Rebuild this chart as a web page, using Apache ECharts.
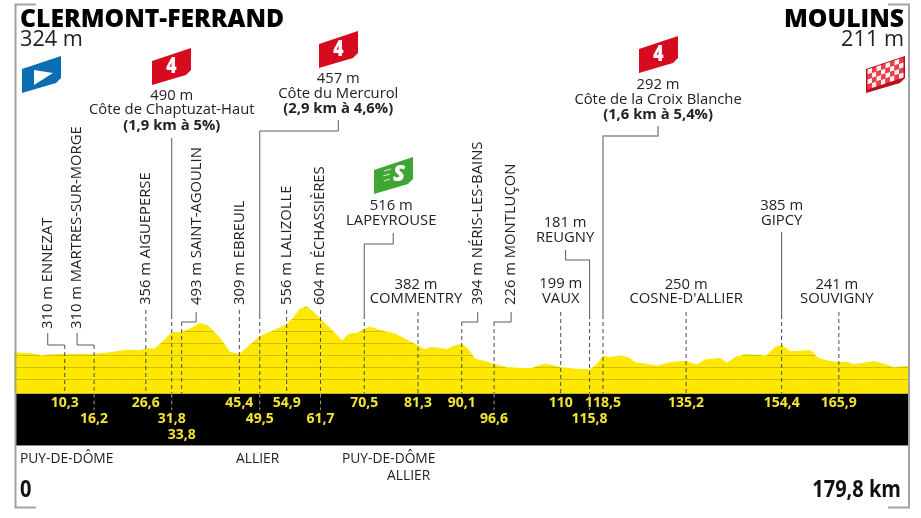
<!DOCTYPE html>
<html>
<head>
<meta charset="utf-8">
<style>html,body{margin:0;padding:0;background:#fff}#chart{width:921px;height:518px}</style>
<script src="https://cdn.jsdelivr.net/npm/echarts@6/dist/echarts.min.js"></script>
</head>
<body>
<div id="chart"></div>
<script>
// Stage profile: distance (km) and altitude (m)
const profileKm = [0, 3.9, 5.6, 7.2, 10.3, 13, 16.2, 18.6, 22.7, 25.4, 26.6, 28.4, 30, 31.8, 33.8, 35.7, 37.4, 39.1, 41.5, 43.5, 45.4, 47.2, 49.5, 51.5, 54.9, 56.5, 57.5, 58.9, 60.2, 61.7, 62.9, 64.6, 66.1, 67.3, 69, 70.5, 71.6, 74, 76.7, 79, 81.3, 82.7, 84, 87.1, 88.7, 90.1, 91.4, 92.8, 94.4, 96.6, 99.1, 103.8, 106.9, 110, 113.2, 115.8, 117.2, 118.5, 119.9, 121.9, 123.6, 124.9, 127, 129.3, 132.3, 135.2, 137.4, 139, 142, 143.4, 145.1, 147.1, 151.4, 153.1, 154.4, 156.1, 160.2, 161.8, 164.2, 165.9, 167.5, 168.9, 172.9, 174.9, 176.9, 178.3, 179.8];
const profileAlt = [324, 312, 298, 304, 310, 310, 310, 318, 343, 340, 356, 354, 415, 490, 493, 526, 568, 546, 443, 326, 309, 374, 457, 493, 556, 623, 685, 707, 665, 604, 554, 485, 421, 476, 485, 516, 535, 507, 479, 429, 382, 346, 368, 351, 379, 394, 351, 268, 254, 226, 199, 190, 229, 199, 185, 181, 221, 292, 282, 298, 282, 240, 229, 212, 243, 250, 221, 262, 276, 235, 285, 307, 298, 368, 385, 332, 340, 276, 249, 241, 243, 223, 249, 229, 199, 204, 211];

// Intermediate points along the route
const stopKm = [10.3, 16.2, 26.6, 31.8, 33.8, 45.4, 49.5, 54.9, 61.7, 70.5, 81.3, 90.1, 96.6, 110, 115.8, 118.5, 135.2, 154.4, 165.9];
const stopKmText = ['10,3', '16,2', '26,6', '31,8', '33,8', '45,4', '49,5', '54,9', '61,7', '70,5', '81,3', '90,1', '96,6', '110', '115,8', '118,5', '135,2', '154,4', '165,9'];
const stopAlt = [310, 310, 356, 490, 493, 309, 457, 556, 604, 516, 382, 394, 226, 199, 181, 292, 250, 385, 241];
const stopName = ['ENNEZAT', 'MARTRES-SUR-MORGE', 'AIGUEPERSE', 'Côte de Chaptuzat-Haut', 'SAINT-AGOULIN', 'EBREUIL', 'Côte du Mercurol', 'LALIZOLLE', 'ÉCHASSIÈRES', 'LAPEYROUSE', 'COMMENTRY', 'NÉRIS-LES-BAINS', 'MONTLUÇON', 'VAUX', 'REUGNY', 'Côte de la Croix Blanche', "COSNE-D'ALLIER", 'GIPCY', 'SOUVIGNY'];
const stopClimb = ['', '', '', '(1,9 km à 5%)', '', '', '(2,9 km à 4,6%)', '', '', '', '', '', '', '', '', '(1,6 km à 5,4%)', '', '', ''];

// Altitude levels ruled across the filled profile
const altitudeLevels = [100, 200, 300, 400, 500, 600, 700];

// Route ends and crossed departments
const startName = 'CLERMONT-FERRAND';
const startAlt = '324 m';
const finishName = 'MOULINS';
const finishAlt = '211 m';
const startKmText = '0';
const finishKmText = '179,8 km';
const departments = ['PUY-DE-DÔME', 'ALLIER', 'PUY-DE-DÔME', 'ALLIER'];
const climbCategory = '4';
const sprintMark = 'S';

// Placement of each stop's label and leader, same order as stopKm.
// row: line of the km label; top: where the dashes start; path: solid leader as [dx, y];
// tx/ty: label position; rot: vertical label.
const stopLayout = [
  { row: 0, top: 345, path: [[-17, 333], [-17, 345], [0, 345]], rot: true, tx: -17, ty: 329 },
  { row: 1, top: 345, path: [[-17, 333], [-17, 345], [0, 345]], rot: true, tx: -17, ty: 329 },
  { row: 0, top: 310, rot: true, tx: 0, ty: 305 },
  { row: 1, top: 315, path: [[0, 138], [0, 315]], tx: 0, ty: [96, 110, 126] },
  { row: 2, top: 322, path: [[14.5, 312], [14.5, 322], [0, 322]], rot: true, tx: 15, ty: 305 },
  { row: 0, top: 310, rot: true, tx: 0, ty: 305 },
  { row: 1, top: 315, path: [[78.5, 120], [78.5, 131], [0, 131], [0, 315]], tx: 78.5, ty: [79, 94, 109] },
  { row: 0, top: 310, rot: true, tx: 0, ty: 305 },
  { row: 1, top: 310, rot: true, tx: -1, ty: 305 },
  { row: 0, top: 315, path: [[29, 233], [29, 244], [0, 244], [0, 315]], tx: 27, ty: [206, 221] },
  { row: 0, top: 312, tx: -2, ty: [285, 299] },
  { row: 0, top: 322, path: [[16, 312], [16, 322], [0, 322]], rot: true, tx: 16, ty: 305 },
  { row: 1, top: 322, path: [[17, 312], [17, 322], [0, 322]], rot: true, tx: 17, ty: 305 },
  { row: 0, top: 312, tx: 0, ty: [284, 299] },
  { row: 1, top: 315, path: [[-24, 250], [-24, 260], [0, 260], [0, 315]], tx: -24.5, ty: [223, 238] },
  { row: 0, top: 315, path: [[55, 126], [55, 136], [0, 136], [0, 315]], grey: true, tx: 55, ty: [85, 100, 115] },
  { row: 0, top: 312, tx: 0, ty: [285, 299] },
  { row: 0, top: 315, path: [[0, 232], [0, 315]], tx: 0, ty: [206, 221] },
  { row: 0, top: 312, tx: -2, ty: [285, 299] }
];

const FONT = "'Open Sans', 'Noto Sans', sans-serif";
const INK = '#222222';
const YELLOW = '#ffe800';
const FRAME = '#a3a3a3';
const BAND_TOP = 393.5;
const BAND_BOTTOM = 445;
const KM_ROWS = [403, 419, 435];

const chart = echarts.init(document.getElementById('chart'));

// Dark rules inside the yellow fill only: each level is cut where it leaves the profile.
function renderLevel(params, api) {
  const level = api.value(0);
  const children = [];
  for (let k = 0; k + 1 < profileKm.length; k++) {
    const a0 = profileAlt[k], a1 = profileAlt[k + 1];
    if (a0 < level && a1 < level) continue;
    let k0 = profileKm[k], k1 = profileKm[k + 1];
    if (a0 < level) k0 += (k1 - k0) * (level - a0) / (a1 - a0);
    else if (a1 < level) k1 = k0 + (k1 - k0) * (a0 - level) / (a0 - a1);
    const p0 = api.coord([k0, level]), p1 = api.coord([k1, level]);
    children.push({
      type: 'line',
      shape: { x1: Math.max(p0[0], 15), y1: p0[1], x2: p1[0], y2: p1[1] },
      style: { stroke: '#d2be10', lineWidth: 1 },
      silent: true
    });
  }
  return { type: 'group', children };
}

// Leader lines, place labels and km figures of one stop.
function renderStop(params, api) {
  const i = api.value(2);
  const x = api.coord([api.value(0), 0])[0];
  const cfg = stopLayout[i];
  const children = [];
  const dash = (y1, y2, color) => children.push({
    type: 'line',
    shape: { x1: x, y1, x2: x, y2 },
    style: { stroke: color, lineWidth: 1, lineDash: [4, 3] },
    silent: true
  });
  dash(cfg.top, BAND_TOP, '#4a4a4a');
  if (cfg.row === 1) dash(BAND_TOP, 410, '#9a9a9a');
  if (cfg.path) {
    children.push({
      type: 'polyline',
      shape: { points: cfg.path.map(p => [x + p[0], p[1]]) },
      style: { stroke: cfg.grey ? '#8e8e8e' : '#5a5a5a', lineWidth: cfg.grey ? 1.5 : 1, fill: null },
      silent: true
    });
  }
  const label = (text, tx, ty, font, rot) => children.push({
    type: 'text',
    x: tx,
    y: ty,
    rotation: rot ? Math.PI / 2 : 0,
    style: {
      text,
      font,
      fill: INK,
      textAlign: rot ? 'left' : 'center',
      textVerticalAlign: 'middle'
    },
    silent: true
  });
  const body = `14.8px ${FONT}`;
  if (cfg.rot) {
    label(`${stopAlt[i]} m ${stopName[i]}`, x + cfg.tx, cfg.ty, body, true);
  } else {
    label(`${stopAlt[i]} m`, x + cfg.tx, cfg.ty[0], body);
    label(stopName[i], x + cfg.tx, cfg.ty[1], body);
    if (stopClimb[i]) label(stopClimb[i], x + cfg.tx, cfg.ty[2], `bold 14.8px ${FONT}`);
  }
  children.push({
    type: 'text',
    x,
    y: KM_ROWS[cfg.row],
    style: {
      text: stopKmText[i],
      font: `bold 14px ${FONT}`,
      fill: '#f3e533',
      textAlign: 'center',
      textVerticalAlign: 'middle'
    },
    silent: true
  });
  return { type: 'group', children };
}

// Slanted road-book flags
const flagShape = (x, y) => [[x, y + 13], [x + 39, y], [x + 39, y + 22], [x + 34, y + 27], [x, y + 37]];
const flag = (x, y, color) => ({
  type: 'polygon',
  shape: { points: flagShape(x, y) },
  style: { fill: color },
  z: 5
});
const climbFlag = (x, y) => [
  flag(x, y, '#d60b1e'),
  {
    type: 'text', x: x + 19.5, y: y + 19, scaleX: 0.8,
    style: { text: climbCategory, font: `800 22px ${FONT}`, fill: '#fff', textAlign: 'center', textVerticalAlign: 'middle' },
    z: 6
  }
];
function checkeredFlag(x, y) {
  const els = [flag(x, y, '#b8101f')];
  const cols = 8, rows = 4;
  const w = 36 / cols, h = 20 / rows, rise = 12 / cols;
  for (let c = 0; c < cols; c++) {
    for (let r = 0; r < rows; r++) {
      const x0 = x + 1.5 + c * w;
      const y0 = y + 13.5 + r * h - c * rise;
      els.push({
        type: 'polygon',
        shape: { points: [[x0, y0], [x0 + w, y0 - rise], [x0 + w, y0 - rise + h], [x0, y0 + h]] },
        style: { fill: (c + r) % 2 ? '#e8404e' : '#fff0ee' },
        z: 6
      });
    }
  }
  return els;
}

const plainText = (text, x, y, font, align, fill, extra) => Object.assign({
  type: 'text', x, y,
  style: { text, font, fill: fill || INK, textAlign: align || 'left', textVerticalAlign: 'middle' },
  z: 6
}, extra || {});

const frameLine = pts => ({
  type: 'polyline',
  shape: { points: pts },
  style: { stroke: FRAME, lineWidth: 2, fill: null },
  z: 7
});

const graphicElements = [
  { type: 'rect', shape: { x: 15, y: BAND_TOP, width: 894, height: BAND_BOTTOM - BAND_TOP }, style: { fill: '#000' }, z: 1 },
  { type: 'line', shape: { x1: 15, y1: BAND_BOTTOM + 0.5, x2: 909, y2: BAND_BOTTOM + 0.5 }, style: { stroke: '#8c8c8c', lineWidth: 1 }, z: 1 },
  frameLine([[36, 4.5], [15.5, 4.5], [15.5, 507.5], [36, 507.5]]),
  frameLine([[888, 4.5], [909, 4.5], [909, 507.5], [888, 507.5]]),

  plainText(startName, 20, 20, `800 24.7px ${FONT}`, 'left', '#000'),
  plainText(startAlt, 20, 40, `21.7px ${FONT}`),
  plainText(finishName, 904, 20, `800 24.7px ${FONT}`, 'right', '#000'),
  plainText(finishAlt, 904, 40, `21.7px ${FONT}`, 'right'),

  plainText(departments[0], 20, 459, `13.8px ${FONT}`),
  plainText(departments[1], 236, 459, `13.8px ${FONT}`),
  plainText(departments[2], 342, 459, `13.8px ${FONT}`),
  plainText(departments[3], 387, 476, `13.8px ${FONT}`),

  plainText(startKmText, 20, 490, `bold 23px ${FONT}`, 'left', '#111', { scaleX: 0.87 }),
  plainText(finishKmText, 901, 490, `bold 23px ${FONT}`, 'right', '#111', { scaleX: 0.87 }),

  // Start flag
  flag(22, 56, '#0a6eb4'),
  { type: 'polygon', shape: { points: [[34, 70], [53, 73], [34, 85]] }, style: { fill: '#fff' }, z: 6 },

  // Climb flags
  ...climbFlag(152, 48),
  ...climbFlag(319, 31),
  ...climbFlag(639, 36),

  // Intermediate sprint flag
  flag(374, 157, '#3fa535'),
  {
    type: 'text', x: 399, y: 175,
    style: { text: sprintMark, font: `italic 800 22px ${FONT}`, fill: '#fff', textAlign: 'center', textVerticalAlign: 'middle' },
    z: 6
  },
  { type: 'line', shape: { x1: 384, y1: 171, x2: 391, y2: 169 }, style: { stroke: '#d9efd0', lineWidth: 1 }, z: 6 },
  { type: 'line', shape: { x1: 383, y1: 176, x2: 390, y2: 174 }, style: { stroke: '#d9efd0', lineWidth: 1 }, z: 6 },
  { type: 'line', shape: { x1: 384, y1: 181, x2: 390, y2: 179 }, style: { stroke: '#d9efd0', lineWidth: 1 }, z: 6 },

  // Finish flag
  ...checkeredFlag(866, 56)
];

chart.setOption({
  animation: false,
  backgroundColor: '#ffffff',
  // 4.975 px per km, 0.12 px per metre
  grid: { left: 15, top: 295.5, width: 893, height: 98 },
  xAxis: { type: 'value', min: 0.3, max: 179.8, show: false },
  yAxis: { type: 'value', min: -16.7, max: 800, show: false },
  graphic: { elements: graphicElements },
  series: [
    {
      type: 'line',
      name: 'Profil',
      data: profileKm.map((km, i) => [km, profileAlt[i]]),
      showSymbol: false,
      silent: true,
      z: 2,
      lineStyle: { color: YELLOW, width: 1 },
      itemStyle: { color: YELLOW },
      areaStyle: { color: YELLOW, origin: 'start', opacity: 1 }
    },
    {
      type: 'custom',
      name: 'Altitudes',
      silent: true,
      z: 3,
      data: altitudeLevels.map(v => [v]),
      encode: { y: 0 },
      renderItem: renderLevel
    },
    {
      type: 'custom',
      name: 'Points de passage',
      silent: true,
      z: 8,
      data: stopKm.map((km, i) => [km, stopAlt[i], i]),
      encode: { x: 0, y: 1 },
      renderItem: renderStop
    }
  ]
});
</script>
</body>
</html>
